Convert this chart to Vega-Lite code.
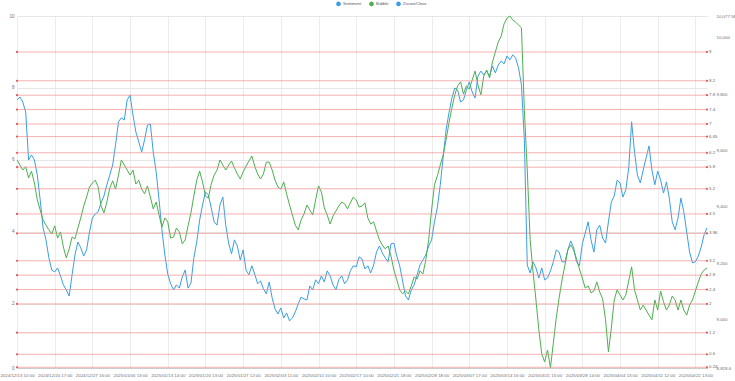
{
"$schema":"https://vega.github.io/schema/vega-lite/v6.json",
"width":690,"height":352,
"autosize":{"type":"none"},
"padding":{"left":17,"top":16,"right":28,"bottom":13},
"background":"white",
"config":{"view":{"stroke":null},"font":"Liberation Sans"},
"datasets":{
"levels":[{"level":9},{"level":8.2},{"level":7.8},{"level":7.4},{"level":7},{"level":6.65},{"level":6.2},{"level":5.8},{"level":5.2},{"level":4.5},{"level":3.96},{"level":3.2},{"level":2.8},{"level":2.4},{"level":2},{"level":1.2},{"level":0.6},{"level":0.24}],
"close":[{"close":8828.6},{"close":10077.58}],
"main":[
{"time":"2024/12/13 10:00","Sentiment":7.67,"Bubble":6.0},
{"time":"2024/12/16 10:00","Sentiment":7.75,"Bubble":5.86},
{"time":"2024/12/16 13:00","Sentiment":7.61,"Bubble":5.72},
{"time":"2024/12/16 16:00","Sentiment":7.33,"Bubble":5.81},
{"time":"2024/12/17 10:00","Sentiment":6.0,"Bubble":5.5},
{"time":"2024/12/17 13:00","Sentiment":6.14,"Bubble":5.69},
{"time":"2024/12/17 16:00","Sentiment":6.0,"Bubble":5.36},
{"time":"2024/12/18 10:00","Sentiment":5.58,"Bubble":4.89},
{"time":"2024/12/18 13:00","Sentiment":4.89,"Bubble":4.61},
{"time":"2024/12/18 16:00","Sentiment":4.11,"Bubble":4.33},
{"time":"2024/12/19 10:00","Sentiment":3.78,"Bubble":4.19},
{"time":"2024/12/19 13:00","Sentiment":3.28,"Bubble":4.06},
{"time":"2024/12/19 16:00","Sentiment":2.94,"Bubble":3.94},
{"time":"2024/12/20 17:00","Sentiment":2.89,"Bubble":4.17},
{"time":"2024/12/23 10:00","Sentiment":3.0,"Bubble":3.83},
{"time":"2024/12/23 13:00","Sentiment":2.78,"Bubble":4.0},
{"time":"2024/12/23 16:00","Sentiment":2.53,"Bubble":3.58},
{"time":"2024/12/24 10:00","Sentiment":2.39,"Bubble":3.28},
{"time":"2024/12/24 13:00","Sentiment":2.22,"Bubble":3.53},
{"time":"2024/12/24 16:00","Sentiment":2.81,"Bubble":3.86},
{"time":"2024/12/25 10:00","Sentiment":3.36,"Bubble":3.81},
{"time":"2024/12/25 13:00","Sentiment":3.72,"Bubble":4.11},
{"time":"2024/12/25 16:00","Sentiment":3.56,"Bubble":4.39},
{"time":"2024/12/26 10:00","Sentiment":3.33,"Bubble":4.72},
{"time":"2024/12/26 13:00","Sentiment":3.5,"Bubble":4.97},
{"time":"2024/12/26 16:00","Sentiment":4.0,"Bubble":5.25},
{"time":"2024/12/27 16:00","Sentiment":4.39,"Bubble":5.36},
{"time":"2024/12/30 10:00","Sentiment":4.5,"Bubble":5.44},
{"time":"2024/12/30 13:00","Sentiment":4.56,"Bubble":5.25},
{"time":"2024/12/30 16:00","Sentiment":4.81,"Bubble":4.72},
{"time":"2025/01/02 10:00","Sentiment":5.0,"Bubble":4.53},
{"time":"2025/01/02 13:00","Sentiment":5.31,"Bubble":4.83},
{"time":"2025/01/02 16:00","Sentiment":5.58,"Bubble":5.22},
{"time":"2025/01/03 10:00","Sentiment":5.86,"Bubble":5.42},
{"time":"2025/01/03 13:00","Sentiment":6.42,"Bubble":5.19},
{"time":"2025/01/03 16:00","Sentiment":7.06,"Bubble":5.58},
{"time":"2025/01/06 10:00","Sentiment":7.17,"Bubble":6.0},
{"time":"2025/01/06 11:00","Sentiment":7.11,"Bubble":5.86},
{"time":"2025/01/06 12:00","Sentiment":7.67,"Bubble":5.72},
{"time":"2025/01/06 13:00","Sentiment":7.8,"Bubble":5.58},
{"time":"2025/01/07 10:00","Sentiment":7.25,"Bubble":5.72},
{"time":"2025/01/07 13:00","Sentiment":6.78,"Bubble":5.33},
{"time":"2025/01/07 16:00","Sentiment":6.5,"Bubble":5.44},
{"time":"2025/01/08 10:00","Sentiment":6.22,"Bubble":5.19},
{"time":"2025/01/08 13:00","Sentiment":6.56,"Bubble":5.06},
{"time":"2025/01/08 16:00","Sentiment":6.97,"Bubble":5.28},
{"time":"2025/01/09 10:00","Sentiment":7.0,"Bubble":4.97},
{"time":"2025/01/09 13:00","Sentiment":6.22,"Bubble":4.64},
{"time":"2025/01/09 16:00","Sentiment":5.67,"Bubble":4.83},
{"time":"2025/01/10 10:00","Sentiment":4.89,"Bubble":4.47},
{"time":"2025/01/10 13:00","Sentiment":4.06,"Bubble":4.14},
{"time":"2025/01/10 16:00","Sentiment":3.36,"Bubble":4.39},
{"time":"2025/01/13 14:00","Sentiment":2.83,"Bubble":4.28},
{"time":"2025/01/14 10:00","Sentiment":2.56,"Bubble":3.83},
{"time":"2025/01/14 13:00","Sentiment":2.39,"Bubble":3.86},
{"time":"2025/01/14 16:00","Sentiment":2.53,"Bubble":4.11},
{"time":"2025/01/15 10:00","Sentiment":2.44,"Bubble":4.0},
{"time":"2025/01/15 13:00","Sentiment":2.75,"Bubble":3.67},
{"time":"2025/01/15 16:00","Sentiment":2.94,"Bubble":3.78},
{"time":"2025/01/16 10:00","Sentiment":2.44,"Bubble":4.17},
{"time":"2025/01/16 13:00","Sentiment":2.58,"Bubble":4.53},
{"time":"2025/01/16 16:00","Sentiment":3.28,"Bubble":5.0},
{"time":"2025/01/17 10:00","Sentiment":3.72,"Bubble":5.44},
{"time":"2025/01/17 13:00","Sentiment":4.33,"Bubble":5.69},
{"time":"2025/01/17 16:00","Sentiment":4.75,"Bubble":5.39},
{"time":"2025/01/20 13:00","Sentiment":5.11,"Bubble":5.0},
{"time":"2025/01/21 10:00","Sentiment":5.03,"Bubble":4.94},
{"time":"2025/01/21 13:00","Sentiment":4.67,"Bubble":5.33},
{"time":"2025/01/21 16:00","Sentiment":4.28,"Bubble":5.58},
{"time":"2025/01/22 10:00","Sentiment":4.19,"Bubble":5.72},
{"time":"2025/01/22 13:00","Sentiment":4.75,"Bubble":6.0},
{"time":"2025/01/22 16:00","Sentiment":4.97,"Bubble":5.86},
{"time":"2025/01/23 10:00","Sentiment":4.19,"Bubble":5.72},
{"time":"2025/01/23 13:00","Sentiment":3.69,"Bubble":5.86},
{"time":"2025/01/23 16:00","Sentiment":3.39,"Bubble":5.97},
{"time":"2025/01/24 10:00","Sentiment":3.78,"Bubble":5.78},
{"time":"2025/01/24 13:00","Sentiment":3.61,"Bubble":5.61},
{"time":"2025/01/24 16:00","Sentiment":3.22,"Bubble":5.47},
{"time":"2025/01/27 12:00","Sentiment":3.5,"Bubble":5.67},
{"time":"2025/01/28 10:00","Sentiment":2.94,"Bubble":5.83},
{"time":"2025/01/28 13:00","Sentiment":2.81,"Bubble":5.97},
{"time":"2025/01/28 16:00","Sentiment":3.06,"Bubble":6.11},
{"time":"2025/01/29 10:00","Sentiment":2.83,"Bubble":5.83},
{"time":"2025/01/29 13:00","Sentiment":2.56,"Bubble":5.61},
{"time":"2025/01/29 16:00","Sentiment":2.64,"Bubble":5.47},
{"time":"2025/01/30 10:00","Sentiment":2.42,"Bubble":5.61},
{"time":"2025/01/30 13:00","Sentiment":2.28,"Bubble":5.94},
{"time":"2025/01/30 16:00","Sentiment":2.61,"Bubble":5.94},
{"time":"2025/01/31 10:00","Sentiment":2.17,"Bubble":5.72},
{"time":"2025/01/31 13:00","Sentiment":1.86,"Bubble":5.44},
{"time":"2025/01/31 16:00","Sentiment":1.72,"Bubble":5.25},
{"time":"2025/02/03 11:00","Sentiment":1.89,"Bubble":5.19},
{"time":"2025/02/04 10:00","Sentiment":1.61,"Bubble":5.39},
{"time":"2025/02/04 13:00","Sentiment":1.75,"Bubble":5.06},
{"time":"2025/02/04 16:00","Sentiment":1.53,"Bubble":4.75},
{"time":"2025/02/05 10:00","Sentiment":1.61,"Bubble":4.47},
{"time":"2025/02/05 13:00","Sentiment":1.78,"Bubble":4.19},
{"time":"2025/02/05 16:00","Sentiment":2.0,"Bubble":4.06},
{"time":"2025/02/06 10:00","Sentiment":2.19,"Bubble":4.33},
{"time":"2025/02/06 13:00","Sentiment":2.14,"Bubble":4.5},
{"time":"2025/02/06 16:00","Sentiment":2.11,"Bubble":4.75},
{"time":"2025/02/07 10:00","Sentiment":2.5,"Bubble":4.61},
{"time":"2025/02/07 13:00","Sentiment":2.39,"Bubble":4.47},
{"time":"2025/02/07 16:00","Sentiment":2.67,"Bubble":4.89},
{"time":"2025/02/10 10:00","Sentiment":2.56,"Bubble":5.28},
{"time":"2025/02/11 10:00","Sentiment":2.78,"Bubble":5.11},
{"time":"2025/02/11 13:00","Sentiment":2.61,"Bubble":4.67},
{"time":"2025/02/11 16:00","Sentiment":2.92,"Bubble":4.47},
{"time":"2025/02/12 10:00","Sentiment":2.78,"Bubble":4.22},
{"time":"2025/02/12 13:00","Sentiment":2.53,"Bubble":4.44},
{"time":"2025/02/12 16:00","Sentiment":2.39,"Bubble":4.58},
{"time":"2025/02/13 10:00","Sentiment":2.67,"Bubble":4.72},
{"time":"2025/02/13 13:00","Sentiment":2.78,"Bubble":4.83},
{"time":"2025/02/13 16:00","Sentiment":2.56,"Bubble":4.78},
{"time":"2025/02/14 10:00","Sentiment":2.67,"Bubble":4.64},
{"time":"2025/02/14 13:00","Sentiment":2.92,"Bubble":4.81},
{"time":"2025/02/14 16:00","Sentiment":3.06,"Bubble":4.97},
{"time":"2025/02/17 10:00","Sentiment":3.03,"Bubble":4.89},
{"time":"2025/02/18 10:00","Sentiment":3.31,"Bubble":4.69},
{"time":"2025/02/18 13:00","Sentiment":3.25,"Bubble":4.72},
{"time":"2025/02/18 16:00","Sentiment":2.97,"Bubble":4.81},
{"time":"2025/02/19 10:00","Sentiment":3.06,"Bubble":4.39},
{"time":"2025/02/19 13:00","Sentiment":2.86,"Bubble":4.22},
{"time":"2025/02/19 16:00","Sentiment":3.08,"Bubble":4.28},
{"time":"2025/02/20 10:00","Sentiment":3.44,"Bubble":4.03},
{"time":"2025/02/20 13:00","Sentiment":3.61,"Bubble":3.78},
{"time":"2025/02/20 16:00","Sentiment":3.42,"Bubble":3.64},
{"time":"2025/02/21 10:00","Sentiment":3.28,"Bubble":3.53},
{"time":"2025/02/21 13:00","Sentiment":3.17,"Bubble":3.61},
{"time":"2025/02/21 16:00","Sentiment":3.67,"Bubble":3.33},
{"time":"2025/02/21 18:00","Sentiment":3.69,"Bubble":2.94},
{"time":"2025/02/24 10:00","Sentiment":3.33,"Bubble":2.67},
{"time":"2025/02/24 13:00","Sentiment":3.06,"Bubble":2.39},
{"time":"2025/02/24 16:00","Sentiment":2.64,"Bubble":2.28},
{"time":"2025/02/25 10:00","Sentiment":2.22,"Bubble":2.36},
{"time":"2025/02/25 13:00","Sentiment":2.11,"Bubble":2.28},
{"time":"2025/02/25 16:00","Sentiment":2.39,"Bubble":2.5},
{"time":"2025/02/26 10:00","Sentiment":2.53,"Bubble":2.75},
{"time":"2025/02/26 13:00","Sentiment":2.81,"Bubble":2.69},
{"time":"2025/02/26 16:00","Sentiment":3.08,"Bubble":2.92},
{"time":"2025/02/27 10:00","Sentiment":3.22,"Bubble":2.83},
{"time":"2025/02/27 13:00","Sentiment":3.36,"Bubble":3.22},
{"time":"2025/02/27 16:00","Sentiment":3.61,"Bubble":3.78},
{"time":"2025/02/28 18:00","Sentiment":3.78,"Bubble":4.61},
{"time":"2025/03/03 10:00","Sentiment":4.28,"Bubble":5.31},
{"time":"2025/03/03 13:00","Sentiment":4.69,"Bubble":5.56},
{"time":"2025/03/03 16:00","Sentiment":5.31,"Bubble":5.86},
{"time":"2025/03/04 10:00","Sentiment":6.08,"Bubble":6.14},
{"time":"2025/03/04 13:00","Sentiment":6.83,"Bubble":6.56},
{"time":"2025/03/04 16:00","Sentiment":7.31,"Bubble":7.03},
{"time":"2025/03/05 10:00","Sentiment":7.72,"Bubble":7.44},
{"time":"2025/03/05 13:00","Sentiment":8.0,"Bubble":7.81},
{"time":"2025/03/05 16:00","Sentiment":7.94,"Bubble":8.06},
{"time":"2025/03/06 10:00","Sentiment":7.61,"Bubble":8.17},
{"time":"2025/03/06 13:00","Sentiment":7.67,"Bubble":7.83},
{"time":"2025/03/06 16:00","Sentiment":7.94,"Bubble":8.06},
{"time":"2025/03/07 17:00","Sentiment":8.17,"Bubble":7.97},
{"time":"2025/03/10 10:00","Sentiment":7.89,"Bubble":8.22},
{"time":"2025/03/10 13:00","Sentiment":7.72,"Bubble":8.47},
{"time":"2025/03/10 16:00","Sentiment":8.33,"Bubble":8.08},
{"time":"2025/03/11 10:00","Sentiment":8.47,"Bubble":7.81},
{"time":"2025/03/11 13:00","Sentiment":8.36,"Bubble":8.33},
{"time":"2025/03/11 16:00","Sentiment":8.47,"Bubble":8.5},
{"time":"2025/03/12 10:00","Sentiment":8.33,"Bubble":8.28},
{"time":"2025/03/12 13:00","Sentiment":8.61,"Bubble":8.72},
{"time":"2025/03/12 16:00","Sentiment":8.42,"Bubble":9.0},
{"time":"2025/03/13 10:00","Sentiment":8.64,"Bubble":9.28},
{"time":"2025/03/13 13:00","Sentiment":8.75,"Bubble":9.44},
{"time":"2025/03/13 16:00","Sentiment":8.67,"Bubble":9.78},
{"time":"2025/03/14 16:00","Sentiment":8.89,"Bubble":9.94},
{"time":"2025/03/17 10:00","Sentiment":8.78,"Bubble":10.0},
{"time":"2025/03/17 13:00","Sentiment":8.92,"Bubble":9.89},
{"time":"2025/03/17 16:00","Sentiment":8.83,"Bubble":9.83},
{"time":"2025/03/18 10:00","Sentiment":8.56,"Bubble":9.75},
{"time":"2025/03/18 13:00","Sentiment":8.08,"Bubble":9.67},
{"time":"2025/03/18 16:00","Sentiment":6.56,"Bubble":7.39},
{"time":"2025/03/19 10:00","Sentiment":3.08,"Bubble":5.72},
{"time":"2025/03/19 13:00","Sentiment":2.86,"Bubble":3.78},
{"time":"2025/03/19 16:00","Sentiment":3.17,"Bubble":2.89},
{"time":"2025/03/20 10:00","Sentiment":3.0,"Bubble":2.11},
{"time":"2025/03/20 13:00","Sentiment":2.72,"Bubble":1.28},
{"time":"2025/03/20 16:00","Sentiment":3.0,"Bubble":0.61},
{"time":"2025/03/21 15:00","Sentiment":2.67,"Bubble":0.39},
{"time":"2025/03/24 10:00","Sentiment":2.72,"Bubble":0.72},
{"time":"2025/03/24 13:00","Sentiment":2.92,"Bubble":0.22},
{"time":"2025/03/24 16:00","Sentiment":3.17,"Bubble":0.92},
{"time":"2025/03/25 10:00","Sentiment":3.5,"Bubble":1.61},
{"time":"2025/03/25 13:00","Sentiment":3.44,"Bubble":2.17},
{"time":"2025/03/25 16:00","Sentiment":3.17,"Bubble":2.67},
{"time":"2025/03/26 10:00","Sentiment":3.17,"Bubble":3.08},
{"time":"2025/03/26 13:00","Sentiment":3.5,"Bubble":3.5},
{"time":"2025/03/26 16:00","Sentiment":3.75,"Bubble":3.64},
{"time":"2025/03/27 10:00","Sentiment":3.56,"Bubble":3.5},
{"time":"2025/03/27 13:00","Sentiment":3.17,"Bubble":3.25},
{"time":"2025/03/27 16:00","Sentiment":3.06,"Bubble":2.97},
{"time":"2025/03/28 14:00","Sentiment":3.67,"Bubble":2.72},
{"time":"2025/03/31 10:00","Sentiment":3.97,"Bubble":2.44},
{"time":"2025/03/31 13:00","Sentiment":4.28,"Bubble":2.5},
{"time":"2025/03/31 16:00","Sentiment":3.78,"Bubble":2.31},
{"time":"2025/04/01 10:00","Sentiment":3.44,"Bubble":2.36},
{"time":"2025/04/01 13:00","Sentiment":4.06,"Bubble":2.61},
{"time":"2025/04/01 16:00","Sentiment":4.19,"Bubble":2.33},
{"time":"2025/04/02 10:00","Sentiment":3.83,"Bubble":2.14},
{"time":"2025/04/02 13:00","Sentiment":3.69,"Bubble":1.56},
{"time":"2025/04/02 16:00","Sentiment":4.28,"Bubble":0.67},
{"time":"2025/04/03 10:00","Sentiment":4.83,"Bubble":1.33},
{"time":"2025/04/03 13:00","Sentiment":5.0,"Bubble":2.11},
{"time":"2025/04/03 16:00","Sentiment":5.44,"Bubble":2.39},
{"time":"2025/04/04 13:00","Sentiment":5.36,"Bubble":2.25},
{"time":"2025/04/07 10:00","Sentiment":4.97,"Bubble":2.11},
{"time":"2025/04/07 13:00","Sentiment":5.17,"Bubble":2.25},
{"time":"2025/04/07 16:00","Sentiment":5.78,"Bubble":2.64},
{"time":"2025/04/08 10:00","Sentiment":7.06,"Bubble":3.03},
{"time":"2025/04/08 13:00","Sentiment":6.22,"Bubble":2.39},
{"time":"2025/04/08 16:00","Sentiment":5.58,"Bubble":2.11},
{"time":"2025/04/09 10:00","Sentiment":5.36,"Bubble":1.83},
{"time":"2025/04/09 13:00","Sentiment":5.72,"Bubble":1.97},
{"time":"2025/04/09 16:00","Sentiment":6.06,"Bubble":1.83},
{"time":"2025/04/10 10:00","Sentiment":6.39,"Bubble":1.69},
{"time":"2025/04/10 13:00","Sentiment":5.72,"Bubble":1.56},
{"time":"2025/04/10 16:00","Sentiment":5.31,"Bubble":2.11},
{"time":"2025/04/11 12:00","Sentiment":5.69,"Bubble":1.83},
{"time":"2025/04/14 10:00","Sentiment":5.44,"Bubble":2.36},
{"time":"2025/04/14 13:00","Sentiment":5.08,"Bubble":2.06},
{"time":"2025/04/14 16:00","Sentiment":5.39,"Bubble":1.83},
{"time":"2025/04/15 10:00","Sentiment":4.94,"Bubble":1.97},
{"time":"2025/04/15 13:00","Sentiment":4.28,"Bubble":2.22},
{"time":"2025/04/15 16:00","Sentiment":4.06,"Bubble":2.11},
{"time":"2025/04/16 10:00","Sentiment":4.39,"Bubble":1.83},
{"time":"2025/04/16 13:00","Sentiment":4.94,"Bubble":2.11},
{"time":"2025/04/16 16:00","Sentiment":4.56,"Bubble":1.83},
{"time":"2025/04/17 10:00","Sentiment":4.0,"Bubble":1.69},
{"time":"2025/04/17 13:00","Sentiment":3.44,"Bubble":1.97},
{"time":"2025/04/17 16:00","Sentiment":3.14,"Bubble":2.11},
{"time":"2025/04/22 13:00","Sentiment":3.17,"Bubble":2.36},
{"time":"2025/04/22 15:00","Sentiment":3.33,"Bubble":2.61},
{"time":"2025/04/22 17:00","Sentiment":3.58,"Bubble":2.83},
{"time":"2025/04/23 10:00","Sentiment":3.92,"Bubble":2.94},
{"time":"2025/04/23 12:00","Sentiment":4.11,"Bubble":3.0}
]},
"layer":[
{"data":{"name":"main"},
 "transform":[{"fold":["Sentiment","Bubble"],"as":["series","value"]}],
 "mark":{"type":"line","strokeWidth":1},
 "encoding":{
  "x":{"field":"time","type":"ordinal","scale":{"type":"point","padding":0},
   "axis":{"title":null,"labelAngle":0,"labelFontSize":4.4,"labelColor":"#6e7079","labelPadding":5,"ticks":false,"labelOverlap":false,"domainColor":"#cccccc","grid":true,"gridColor":"#ececec",
    "values":["2024/12/13 10:00","2024/12/20 17:00","2024/12/27 16:00","2025/01/06 13:00","2025/01/13 14:00","2025/01/20 13:00","2025/01/27 12:00","2025/02/03 11:00","2025/02/10 10:00","2025/02/17 10:00","2025/02/21 18:00","2025/02/28 18:00","2025/03/07 17:00","2025/03/14 16:00","2025/03/21 15:00","2025/03/28 14:00","2025/04/04 13:00","2025/04/11 12:00","2025/04/22 13:00"]}},
  "y":{"field":"value","type":"quantitative","scale":{"domain":[0.22,10],"nice":false,"zero":false},
   "axis":{"title":null,"values":[0.22,2,4,6,8,10],"labelExpr":"datum.value < 1 ? '0' : datum.label","labelFontSize":4.6,"labelColor":"#6e7079","labelPadding":3,"ticks":false,"domain":false,"grid":true,"gridColor":"#e6e6e6"}},
  "color":{"field":"series","type":"nominal","scale":{"domain":["Sentiment","Bubble","Zscore/Close"],"range":["#3a9ee4","#4caf50","#3a9ee4"]},
   "legend":{"title":null,"orient":"none","legendX":319,"legendY":-15,"direction":"horizontal","symbolType":"circle","symbolSize":6,"symbolStrokeWidth":2.2,"labelFontSize":4,"labelColor":"#555","labelOffset":2,"columnPadding":3}}
 }},
{"data":{"name":"levels"},
 "mark":{"type":"rule","color":"#ee8a8a","strokeWidth":0.8,"opacity":0.85},
 "encoding":{"y":{"field":"level","type":"quantitative","scale":{"domain":[0.22,10],"nice":false,"zero":false},"axis":null}}},
{"data":{"name":"levels"},
 "mark":{"type":"point","filled":true,"size":5,"color":"#e05a5a","opacity":1},
 "encoding":{"x":{"datum":"2024/12/13 10:00","type":"ordinal"},"y":{"field":"level","type":"quantitative","scale":{"domain":[0.22,10],"nice":false,"zero":false},"axis":null}}},
{"data":{"name":"levels"},
 "mark":{"type":"point","filled":true,"size":5,"color":"#e05a5a","opacity":1},
 "encoding":{"x":{"datum":"2025/04/23 12:00","type":"ordinal"},"y":{"field":"level","type":"quantitative","scale":{"domain":[0.22,10],"nice":false,"zero":false},"axis":null}}},
{"data":{"name":"levels"},
 "mark":{"type":"text","align":"left","baseline":"middle","dx":2,"fontSize":4.4,"color":"#666666"},
 "encoding":{"x":{"datum":"2025/04/23 12:00","type":"ordinal"},"y":{"field":"level","type":"quantitative","scale":{"domain":[0.22,10],"nice":false,"zero":false},"axis":null},"text":{"field":"level","type":"nominal"}}},
{"data":{"name":"close"},
 "mark":{"type":"rule","opacity":0},
 "encoding":{"y":{"field":"close","type":"quantitative","scale":{"domain":[8828.6,10077.58],"nice":false,"zero":false},
  "axis":{"orient":"right","title":null,"values":[8828.6,9000,9200,9400,9600,9800,10000,10077.58],"format":",.2~f","labelFontSize":4.4,"labelColor":"#6e7079","labelPadding":9,"ticks":false,"domain":false,"grid":false}}}}
],
"resolve":{"scale":{"y":"independent"}}
}
